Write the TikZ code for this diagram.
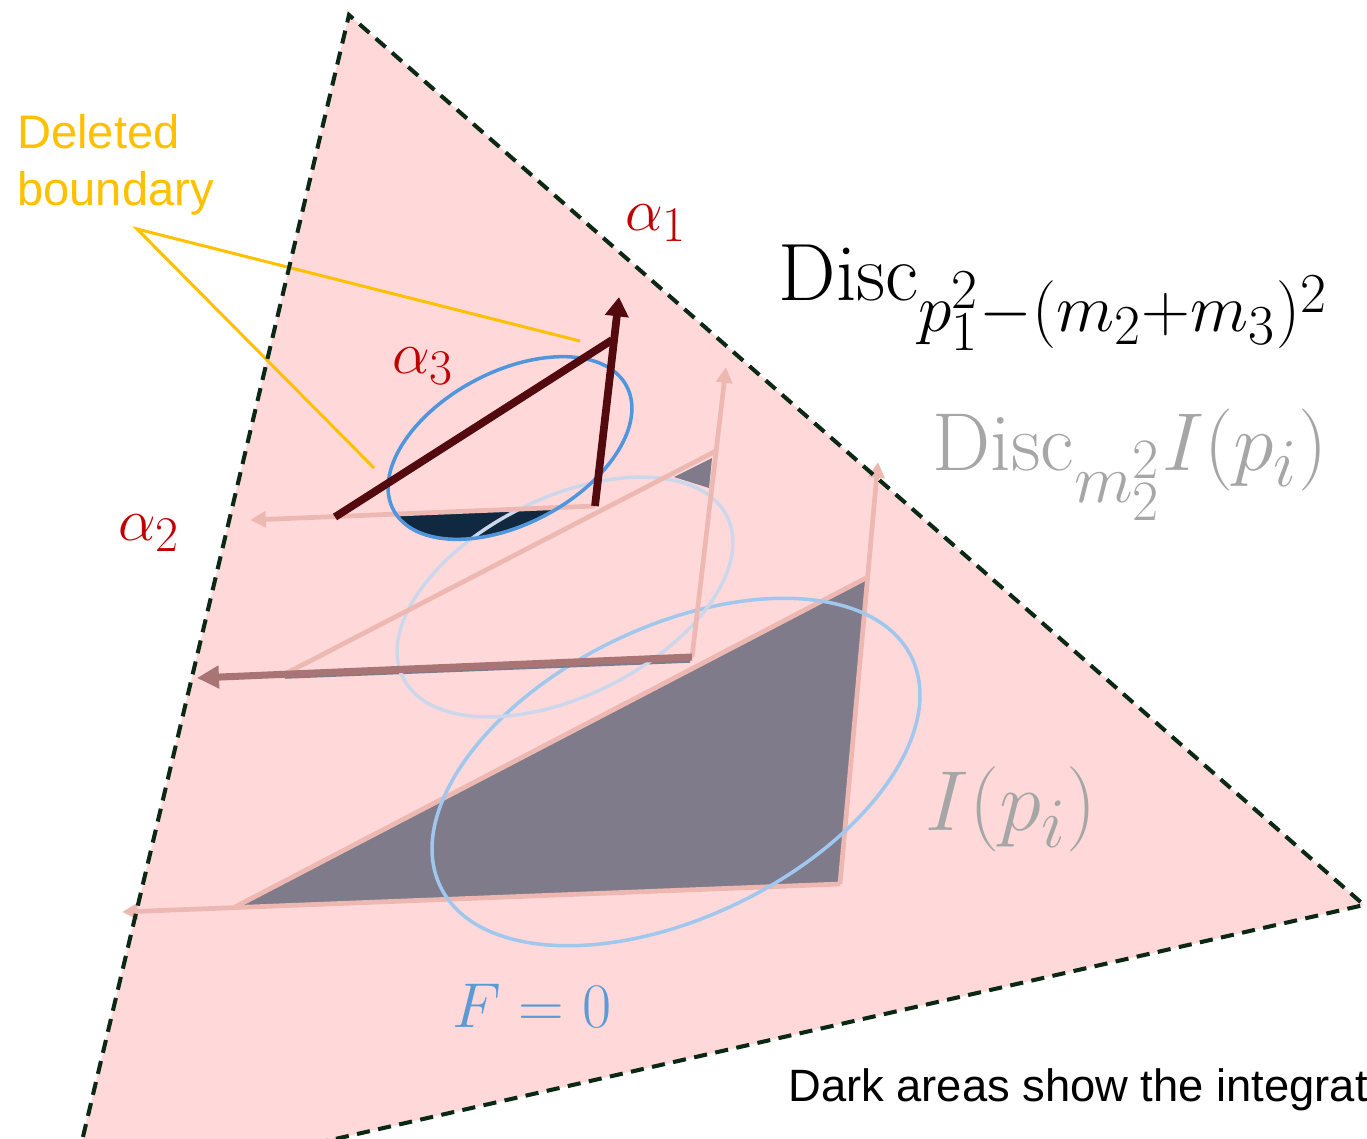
\documentclass[tikz,border=0pt]{standalone}
\usepackage{fontspec}
\newfontfamily\labelsans{Liberation Sans}
\usetikzlibrary{arrows.meta}
\definecolor{bgpink}{RGB}{255,217,217}
\definecolor{dgreen}{RGB}{10,40,20}
\definecolor{maroonc}{RGB}{82,10,14}
\definecolor{pinkl}{RGB}{238,184,178}
\definecolor{mauvec}{RGB}{168,116,116}
\definecolor{greyfill}{RGB}{128,123,138}
\definecolor{navyc}{RGB}{16,40,64}
\definecolor{eblue}{RGB}{80,150,220}
\definecolor{efaint}{RGB}{205,215,235}
\definecolor{elight}{RGB}{160,200,238}
\definecolor{yel}{RGB}{255,192,0}
\definecolor{redlab}{RGB}{192,0,0}
\definecolor{graytext}{RGB}{166,166,166}
\definecolor{fblue}{RGB}{91,155,213}
\begin{document}
\begin{tikzpicture}[x=0.02cm,y=-0.02cm,
  pinkln/.style={draw=pinkl, line width=2.7pt},
  pinkarr/.style={pinkln, -{Triangle[length=9pt,width=9pt]}},
  edgeln/.style={draw=dgreen, line width=2.3pt, dash pattern=on 7.5pt off 4.8pt},
  ell/.style={line width=2pt},
  maroonln/.style={draw=maroonc, line width=4.4pt},
  yelln/.style={draw=yel, line width=1.7pt},
  sanslab/.style={font=\labelsans\fontsize{26.8}{31}\selectfont, inner sep=0, anchor=base west},
  notelab/.style={font=\labelsans\fontsize{25.8}{31}\selectfont, inner sep=0, anchor=base west},
  mathlab/.style={inner sep=0, anchor=base west, font=\fontsize{24.88}{30}\selectfont}]
\useasboundingbox (0,0) rectangle (1367,1139);
\clip (0,0) rectangle (1367,1139);
% outer region
\coordinate (T1) at (349,15);
\coordinate (T2) at (1364,905);
\coordinate (Tb) at (300,1147);
\coordinate (Tl) at (68,1200);
\fill[bgpink] (T1) -- (T2) -- (Tb) -- (Tl) -- cycle;
% big triangle
\coordinate (BA) at (235,907);
\coordinate (BB) at (866,578);
\coordinate (BC) at (840,884);
\coordinate (BV) at (878,462);
\coordinate (BH) at (122,912);
\fill[greyfill] (BA) -- (BB) -- (BC) -- cycle;
\draw[pinkln] (BA) -- (BB);
\draw[pinkarr] (BC) -- (BV);
\draw[pinkarr] (BC) -- (BH);
% ellipse 3
\begin{scope}[shift={(676,772)}, rotate=26]
  \draw[elight, ell] (0,0) ellipse [x radius=262, y radius=145];
\end{scope}
% small triangle coordinates
\coordinate (SA) at (335,517);
\coordinate (SB) at (612,340);
\coordinate (SC) at (595,506);
\coordinate (SV) at (619,297);
\coordinate (SH) at (250,520);
% navy region
\begin{scope}
  \clip (SH) -- (SC) -- (700,502) -- (700,620) -- (250,620) -- cycle;
  \begin{scope}[shift={(510,448)}, rotate=28]
    \fill[navyc] (0,0) ellipse [x radius=132, y radius=76];
  \end{scope}
\end{scope}
% middle triangle
\coordinate (MA) at (283,675);
\coordinate (MB) at (716,451);
\coordinate (MC) at (692,657);
\coordinate (MV) at (726,367);
\coordinate (MH) at (197,678);
\fill[greyfill] (712,458) -- (674,477) -- (709,488) -- cycle;
\draw[greyfill, line width=2pt] (285,677) -- (690,661);
\begin{scope}[shift={(565,597)}, rotate=26.5]
  \draw[efaint, ell] (0,0) ellipse [x radius=181, y radius=99];
\end{scope}
\draw[pinkln] (MA) -- (MB);
\draw[pinkarr] (MC) -- (MV);
\draw[draw=mauvec, line width=4pt, -{Triangle[length=12.5pt,width=12.5pt]}] (MC) -- (MH);
% small triangle lines
\draw[pinkarr] (SC) -- (SH);
\begin{scope}[shift={(510,448)}, rotate=28]
  \draw[eblue, ell] (0,0) ellipse [x radius=132, y radius=76];
\end{scope}
\draw[maroonln] (SA) -- (SB);
\draw[maroonln, -{Triangle[length=11pt,width=13pt]}] (SC) -- (SV);
% deleted boundary pointers
\coordinate (Y0) at (137,229);
\coordinate (Y1) at (580,341);
\coordinate (Y2) at (374,468);
\draw[yelln] (Y1) -- (Y0) -- (Y2);
% dashed boundary
\draw[edgeln] (Tl) -- (T1) -- (T2) -- (Tb);
% labels
\node[sanslab, text=yel] (del1) at (17,148) {Deleted};
\node[sanslab, text=yel] (del2) at (17,205) {boundary};
\node[notelab, text=black] (dark) at (788,1101) {Dark areas show the integrat};
\node[mathlab, text=redlab, scale=1.37] (a1) at (625,230) {$\alpha_1$};
\node[mathlab, text=redlab, scale=1.37] (a2) at (118,540) {$\alpha_2$};
\node[mathlab, text=redlab, scale=1.37] (a3) at (392,373) {$\alpha_3$};
\node[mathlab, text=black, scale=1.86] (disc1) at (778,300) {$\mathrm{Disc}_{p_1^2-(m_2+m_3)^2}$};
\node[mathlab, text=graytext, scale=1.88] (disc2) at (932,470) {$\mathrm{Disc}_{m_2^2}I(p_i)$};
\node[mathlab, text=graytext, scale=1.95] (ip) at (925,830) {$I(p_i)$};
\node[mathlab, text=fblue, scale=1.45] (f0) at (452,1027) {$F=0$};
\end{tikzpicture}
\end{document}
